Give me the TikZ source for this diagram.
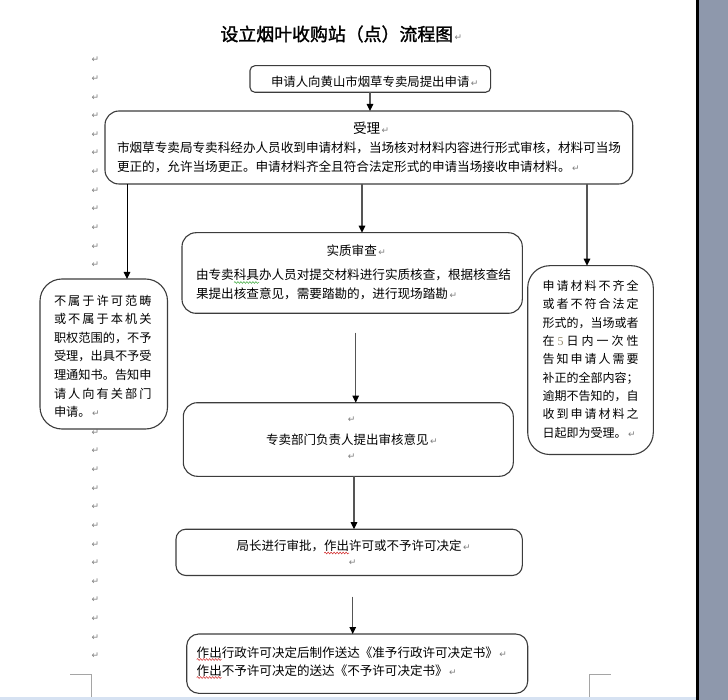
\documentclass[tikz,border=0pt]{standalone}
\usepackage{fontspec}
\setmainfont{Noto Sans CJK SC}
\newfontfamily\pmfont{DejaVu Sans}
\newfontfamily\titlefont[FakeBold=1.5]{Noto Sans CJK SC}
\newfontfamily\numfont{Liberation Serif}
\usetikzlibrary{arrows.meta,decorations.pathmorphing}
\definecolor{pmgrey}{RGB}{125,125,125}
\definecolor{boxline}{RGB}{60,60,60}
\definecolor{arrline}{RGB}{85,85,85}
\definecolor{sidegrey}{RGB}{142,152,172}
\definecolor{stripblue}{RGB}{214,226,242}
\definecolor{cornergrey}{RGB}{165,165,165}
\definecolor{fivec}{RGB}{150,140,110}
\definecolor{wavyred}{RGB}{210,40,40}
\definecolor{wavygreen}{RGB}{60,170,60}
\newcommand\fs[1]{\fontsize{#1}{#1}\selectfont}
\newcommand\pmark{{\pmfont\color{pmgrey}\fontsize{9}{9}\selectfont ↵}}
\newcommand\pmafter{\kern1.5pt\pmark}
\ExplSyntaxOn
\NewDocumentCommand\spreadline{m m}
 {
  \hbox_to_wd:nn {#1}
   {
    \bool_set_true:N \l_tmpa_bool
    \tl_map_inline:nn {#2}
     {
      \bool_if:NTF \l_tmpa_bool { \bool_set_false:N \l_tmpa_bool } { \hfill }
      {##1}
     }
   }
 }
\ExplSyntaxOff
\tikzset{
  box/.style={draw=boxline, line width=1.1pt, fill=white, inner sep=0pt, outer sep=0pt},
  txt/.style={inner sep=0pt, outer sep=0pt, anchor=base west, font=\fs{12.6}},
  pmk/.style={inner sep=0pt, outer sep=0pt, anchor=center},
  arr/.style={draw=arrline, line width=1.2pt, -{Triangle[length=7pt,width=6.5pt,color=black]}},
  wavy/.style={line width=0.5pt, decorate, decoration={snake, amplitude=0.9pt, segment length=3pt}},
  corner/.style={draw=cornergrey, line width=0.8pt}
}
\begin{document}
\begin{tikzpicture}[x=1pt,y=-1pt]
\useasboundingbox (0,0) rectangle (728,700);
\fill[white] (0,0) rectangle (728,700);
% window frame
\fill[sidegrey] (698.7,0) rectangle (728,700);
\fill[black] (695.7,0) rectangle (698.7,700);
\fill[stripblue] (0,696.5) rectangle (695.7,700);
% margin corner marks
\coordinate (cl1) at (70,674.3); \coordinate (cl2) at (91.7,674.3); \coordinate (cl3) at (91.7,696.5);
\draw[corner] (cl1) -- (cl2) -- (cl3);
\coordinate (cr1) at (589.3,696.5); \coordinate (cr2) at (589.3,674.3); \coordinate (cr3) at (610.7,674.3);
\draw[corner] (cr1) -- (cr2) -- (cr3);
% column of paragraph marks (those behind the left box are not shown)
\foreach \k in {0,...,11,20,21,...,32} { \node[pmk] (pm\k) at (95.5, 60+18.625*\k) {\pmark}; }

% title
\node[txt, font=\titlefont\fs{17.9}] (title) at (220.5,40.8) {设立烟叶收购站（点）流程图\pmafter};

% boxes
\node[box, rounded corners=5pt, minimum width=240.7pt, minimum height=26.6pt] (b1) at (370.3,79) {};
\node[box, rounded corners=14pt, minimum width=527.7pt, minimum height=73pt] (b2) at (368.85,147.5) {};
\node[box, rounded corners=14pt, minimum width=340.3pt, minimum height=80.6pt] (b3) at (352.15,273) {};
\node[box, rounded corners=22pt, minimum width=127.5pt, minimum height=150pt] (L) at (103.75,354) {};
\node[box, rounded corners=22pt, minimum width=125.6pt, minimum height=188.8pt] (R) at (590.5,360.1) {};
\node[box, rounded corners=14pt, minimum width=330pt, minimum height=73.6pt] (b4) at (348.3,439.5) {};
\node[box, rounded corners=10pt, minimum width=346.3pt, minimum height=46.3pt] (b5) at (349.15,552.35) {};
\node[box, rounded corners=12pt, minimum width=341pt, minimum height=59.3pt] (b6) at (357.2,663.65) {};

% texts
\node[txt, font=\fs{12.4}] (t1) at (271,86.4) {申请人向黄山市烟草专卖局提出申请\pmafter};

\node[txt, font=\fs{13.6}] (t2a) at (353,133.2) {受理\pmafter};
\node[txt] (t2b) at (117,152.5) {市烟草专卖局专卖科经办人员收到申请材料，当场核对材料内容进行形式审核，材料可当场};
\node[txt] (t2c) at (117,171.3) {更正的，允许当场更正。申请材料齐全且符合法定形式的申请当场接收申请材料。\pmafter};

\node[txt] (t3a) at (326.5,255.8) {实质审查\pmafter};
\node[txt] (t3b) at (196,279.8) {由专卖科具办人员对提交材料进行实质核查，根据核查结};
\node[txt] (t3c) at (196,298.3) {果提出核查意见，需要踏勘的，进行现场踏勘\pmafter};

\begin{scope}[every node/.append style={txt, font=\fs{12.2}}]
\node (tL1) at (54,305.1) {\spreadline{97.6pt}{不属于许可范畴}};
\node (tL2) at (54,323.7) {\spreadline{97.6pt}{或不属于本机关}};
\node (tL3) at (54,342.3) {\spreadline{97.6pt}{职权范围的，不予}};
\node (tL4) at (54,360.9) {\spreadline{97.6pt}{受理，出具不予受}};
\node (tL5) at (54,379.5) {\spreadline{97.6pt}{理通知书。告知申}};
\node (tL6) at (54,398.1) {\spreadline{97.6pt}{请人向有关部门}};
\node (tL7) at (54,416.7) {申请。\pmafter};
\end{scope}

\begin{scope}[every node/.append style={txt, font=\fs{12}}]
\node (tR1) at (542.7,290.6) {\spreadline{96pt}{申请材料不齐全}};
\node (tR2) at (542.7,308.9) {\spreadline{96pt}{或者不符合法定}};
\node (tR3) at (542.7,327.2) {\spreadline{96pt}{形式的，当场或者}};
\node (tR4) at (542.7,345.5) {\spreadline{96pt}{在{\numfont\color{fivec}5}日内一次性}};
\node (tR5) at (542.7,363.8) {\spreadline{96pt}{告知申请人需要}};
\node (tR6) at (542.7,382.1) {\spreadline{96pt}{补正的全部内容；}};
\node (tR7) at (542.7,400.4) {\spreadline{96pt}{逾期不告知的，自}};
\node (tR8) at (542.7,418.7) {\spreadline{96pt}{收到申请材料之}};
\node (tR9) at (542.7,437.0) {日起即为受理。\pmafter};
\end{scope}

\node[pmk] (pb4a) at (351.7,420) {\pmark};
\node[txt, font=\fs{12.5}] (t4) at (266,444.7) {专卖部门负责人提出审核意见\pmafter};
\node[pmk] (pb4b) at (351.7,456.7) {\pmark};

\node[txt, font=\fs{12.5}] (t5) at (236.7,550.7) {局长进行审批，作出许可或不予许可决定\pmafter};
\node[pmk] (pb5) at (352.7,562.7) {\pmark};

\node[txt, font=\fs{12.55}] (t6a) at (196.7,657.2) {作出行政许可决定后制作送达《准予行政许可决定书》\pmafter};
\node[txt, font=\fs{12.55}] (t6b) at (196.7,675.2) {作出不予许可决定的送达《不予许可决定书》\pmafter};

% wavy underlines
\coordinate (w1a) at (234,282.5); \coordinate (w1b) at (259,282.5);
\draw[wavy, wavygreen] (w1a) -- (w1b);
\coordinate (w2a) at (324.2,553); \coordinate (w2b) at (349.2,553);
\draw[wavy, wavyred] (w2a) -- (w2b);
\coordinate (w3a) at (196.7,659.5); \coordinate (w3b) at (221.7,659.5);
\draw[wavy, wavyred] (w3a) -- (w3b);
\coordinate (w4a) at (196.7,677.5); \coordinate (w4b) at (221.7,677.5);
\draw[wavy, wavyred] (w4a) -- (w4b);

% connectors
\coordinate (x1) at (370,0);
\draw[arr] (b1.south -| x1) -- (b2.north -| x1);
\coordinate (xL) at (127,0);
\draw[arr, draw=black, line width=1pt] (b2.south -| xL) -- (L.north -| xL);
\coordinate (xM) at (362,0);
\draw[arr] (b2.south -| xM) -- (b3.north -| xM);
\coordinate (xR) at (587,0);
\draw[arr] (b2.south -| xR) -- (R.north -| xR);
\coordinate (s34) at (355.7,332.7);
\draw[arr] (s34) -- (b4.north -| s34);
\coordinate (x45) at (354,0);
\draw[arr] (b4.south -| x45) -- (b5.north -| x45);
\coordinate (s56) at (352.7,596.7);
\draw[arr] (s56) -- (b6.north -| s56);
\end{tikzpicture}
\end{document}
